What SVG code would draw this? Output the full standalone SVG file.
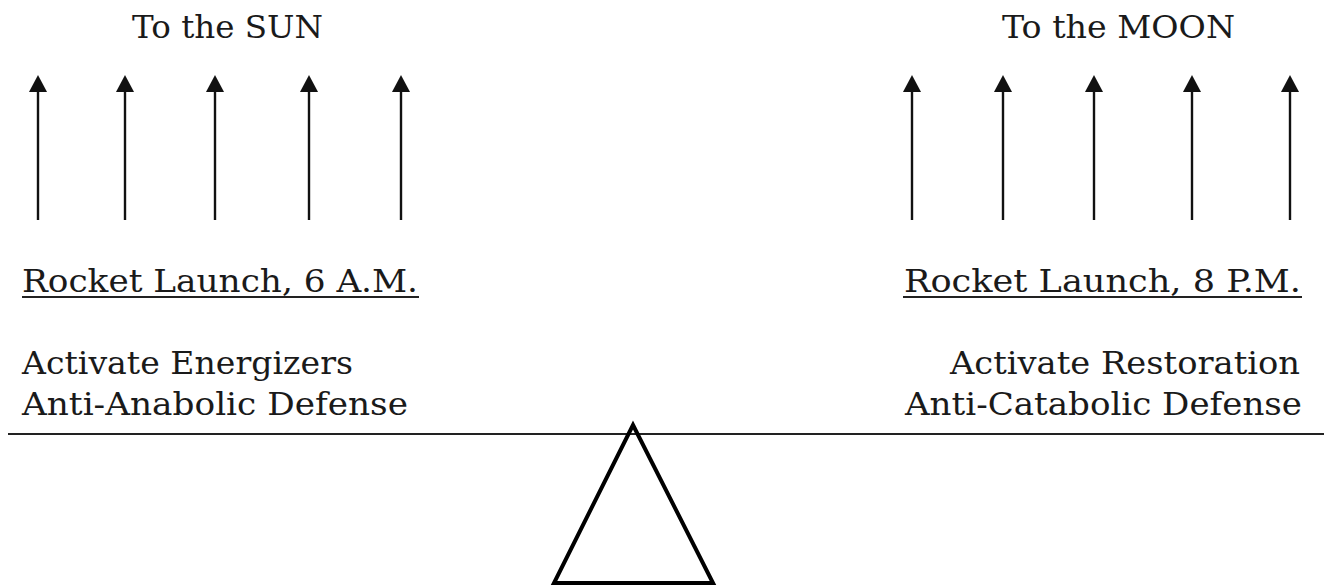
<svg xmlns="http://www.w3.org/2000/svg" width="1324" height="586" viewBox="0 0 1324 586">
<style>
text{font-family:"DejaVu Serif","Liberation Serif",serif;font-size:31px;fill:#1a1a1a}
.arr{stroke:#111;stroke-width:2.4}
.u{stroke:#222;stroke-width:2}
</style>
<defs>
<marker id="ah" viewBox="0 0 17 18" refX="0" refY="9" markerWidth="17" markerHeight="18" markerUnits="userSpaceOnUse" orient="auto">
<path d="M0,0 L17,9 L0,18 Z" fill="#111"/>
</marker>
</defs>
<rect width="1324" height="586" fill="#fff"/>
<g id="sun-label"><text x="132" y="38" textLength="191" lengthAdjust="spacingAndGlyphs">To the SUN</text></g>
<g id="moon-label"><text x="1002" y="38" textLength="233" lengthAdjust="spacingAndGlyphs">To the MOON</text></g>
<g id="connectors">
<line class="arr" x1="38" y1="220" x2="38" y2="92" marker-end="url(#ah)"/>
<line class="arr" x1="125" y1="220" x2="125" y2="92" marker-end="url(#ah)"/>
<line class="arr" x1="215" y1="220" x2="215" y2="92" marker-end="url(#ah)"/>
<line class="arr" x1="309" y1="220" x2="309" y2="92" marker-end="url(#ah)"/>
<line class="arr" x1="401" y1="220" x2="401" y2="92" marker-end="url(#ah)"/>
<line class="arr" x1="912" y1="220" x2="912" y2="92" marker-end="url(#ah)"/>
<line class="arr" x1="1003" y1="220" x2="1003" y2="92" marker-end="url(#ah)"/>
<line class="arr" x1="1094" y1="220" x2="1094" y2="92" marker-end="url(#ah)"/>
<line class="arr" x1="1192" y1="220" x2="1192" y2="92" marker-end="url(#ah)"/>
<line class="arr" x1="1290" y1="220" x2="1290" y2="92" marker-end="url(#ah)"/>
</g>
<g id="left-launch">
<text x="22" y="292" textLength="396" lengthAdjust="spacingAndGlyphs">Rocket Launch, 6 A.M.</text>
<line class="u" x1="22" y1="297" x2="419" y2="297"/>
</g>
<g id="right-launch">
<text x="904" y="292" textLength="397" lengthAdjust="spacingAndGlyphs">Rocket Launch, 8 P.M.</text>
<line class="u" x1="903" y1="297" x2="1302" y2="297"/>
</g>
<g id="left-desc">
<text x="22" y="374" textLength="331" lengthAdjust="spacingAndGlyphs">Activate Energizers</text>
<text x="22" y="415" textLength="386" lengthAdjust="spacingAndGlyphs">Anti-Anabolic Defense</text>
</g>
<g id="right-desc">
<text x="950" y="374" textLength="350" lengthAdjust="spacingAndGlyphs">Activate Restoration</text>
<text x="905" y="415" textLength="397" lengthAdjust="spacingAndGlyphs">Anti-Catabolic Defense</text>
</g>
<g id="beam"><line x1="8" y1="434" x2="1324" y2="434" stroke="#222" stroke-width="2"/></g>
<g id="fulcrum"><polygon points="633,425 713,583 554,583" fill="none" stroke="#000" stroke-width="4" stroke-linejoin="miter"/></g>
</svg>
